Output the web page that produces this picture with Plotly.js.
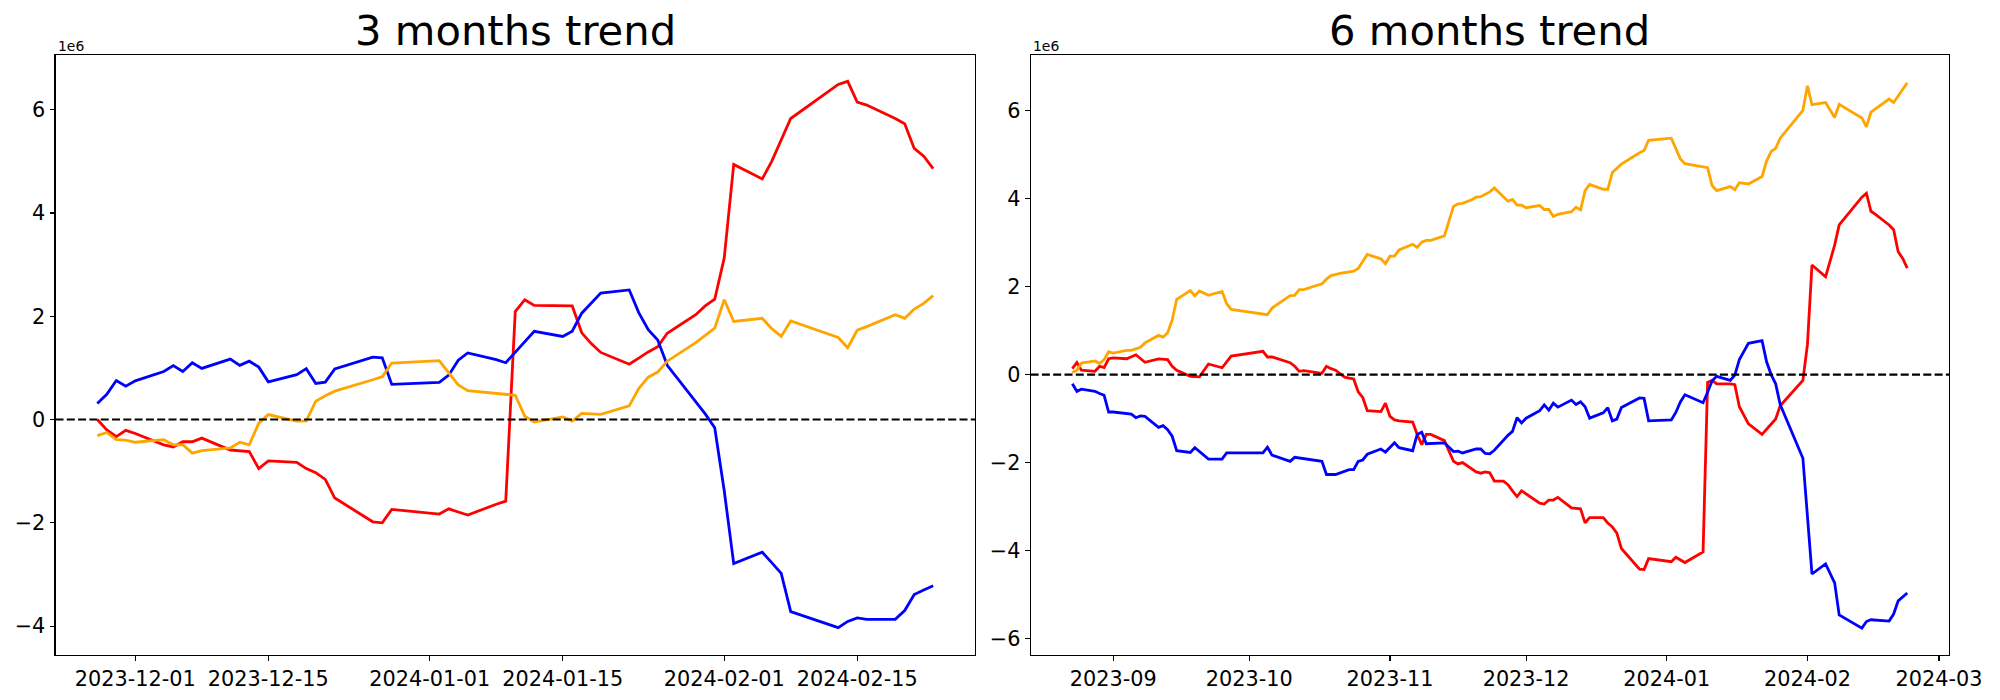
<!DOCTYPE html>
<html><head><meta charset="utf-8">
<script src="https://cdn.plot.ly/plotly-3.0.1.min.js"></script>
<style>html,body{margin:0;padding:0;background:#fff}#chart{width:2000px;height:700px}</style>
</head><body><div id="chart"></div>
<script>
// ---------- 3 months trend (values in units of 1e6) ----------
const leftDates = ['2023-11-27','2023-11-28','2023-11-29','2023-11-30','2023-12-01',
  '2023-12-04','2023-12-05','2023-12-06','2023-12-07','2023-12-08',
  '2023-12-11','2023-12-12','2023-12-13','2023-12-14','2023-12-15',
  '2023-12-18','2023-12-19','2023-12-20','2023-12-21','2023-12-22',
  '2023-12-26','2023-12-27','2023-12-28',
  '2024-01-02','2024-01-03','2024-01-04','2024-01-05',
  '2024-01-08','2024-01-09','2024-01-10','2024-01-11','2024-01-12',
  '2024-01-15','2024-01-16','2024-01-17','2024-01-18','2024-01-19',
  '2024-01-22','2024-01-23','2024-01-24','2024-01-25','2024-01-26',
  '2024-01-29','2024-01-30','2024-01-31','2024-02-01','2024-02-02',
  '2024-02-05','2024-02-06','2024-02-07','2024-02-08',
  '2024-02-13','2024-02-14','2024-02-15','2024-02-16',
  '2024-02-19','2024-02-20','2024-02-21','2024-02-22','2024-02-23'];
const leftRed = [0.0,-0.2,-0.33,-0.21,-0.27,
  -0.49,-0.53,-0.43,-0.43,-0.36,
  -0.59,-0.60,-0.62,-0.95,-0.80,
  -0.83,-0.95,-1.03,-1.16,-1.52,
  -1.98,-2.0,-1.74,
  -1.83,-1.73,-1.79,-1.85,
  -1.64,-1.58,2.09,2.32,2.21,
  2.21,2.20,1.68,1.47,1.30,
  1.07,1.19,1.31,1.41,1.67,
  2.03,2.20,2.33,3.13,4.94,
  4.66,5.00,5.40,5.83,
  6.49,6.55,6.15,6.09,
  5.83,5.73,5.25,5.10,4.86];
const leftBlue = [0.31,0.49,0.755,0.645,0.75,
  0.93,1.045,0.93,1.10,0.99,
  1.17,1.05,1.13,1.015,0.73,
  0.87,0.985,0.70,0.725,0.98,
  1.21,1.195,0.68,
  0.72,0.86,1.15,1.29,
  1.16,1.10,1.30,1.50,1.71,
  1.61,1.71,2.06,2.25,2.45,
  2.51,2.07,1.74,1.54,1.05,
  0.36,0.11,-0.16,-1.38,-2.79,
  -2.57,-2.77,-2.98,-3.72,
  -4.03,-3.91,-3.84,-3.87,
  -3.87,-3.70,-3.39,-3.30,-3.22];
const leftOrange = [-0.31,-0.25,-0.39,-0.40,-0.44,
  -0.39,-0.49,-0.485,-0.65,-0.60,
  -0.55,-0.44,-0.49,-0.07,0.095,
  -0.03,-0.025,0.355,0.46,0.55,
  0.77,0.83,1.095,
  1.14,0.905,0.67,0.56,
  0.51,0.50,0.47,0.065,-0.05,
  0.05,-0.03,0.12,0.11,0.10,
  0.265,0.60,0.82,0.92,1.13,
  1.49,1.63,1.77,2.32,1.90,
  1.96,1.76,1.61,1.91,
  1.59,1.39,1.73,1.80,
  2.03,1.96,2.14,2.25,2.40];
const leftTickVals = ['2023-12-01','2023-12-15','2024-01-01','2024-01-15','2024-02-01','2024-02-15'];
const leftTickText = ['2023-12-01','2023-12-15','2024-01-01','2024-01-15','2024-02-01','2024-02-15'];

// ---------- 6 months trend (values in units of 1e6) ----------
const rightOrangeDates = ['2023-08-23','2023-08-24','2023-08-25','2023-08-28','2023-08-29','2023-08-30','2023-08-31','2023-09-01',
  '2023-09-04','2023-09-05','2023-09-07','2023-09-08','2023-09-11','2023-09-12','2023-09-13','2023-09-14','2023-09-15',
  '2023-09-18','2023-09-19','2023-09-20','2023-09-22','2023-09-25','2023-09-26','2023-09-27','2023-10-05','2023-10-06',
  '2023-10-10','2023-10-11','2023-10-12','2023-10-13','2023-10-16','2023-10-17','2023-10-18','2023-10-19','2023-10-21',
  '2023-10-24','2023-10-25','2023-10-27','2023-10-30','2023-10-31','2023-11-01','2023-11-02','2023-11-03','2023-11-06',
  '2023-11-07','2023-11-08','2023-11-09','2023-11-10','2023-11-13','2023-11-15','2023-11-16','2023-11-17','2023-11-19',
  '2023-11-20','2023-11-21','2023-11-22','2023-11-23','2023-11-24','2023-11-26','2023-11-27','2023-11-28','2023-11-29',
  '2023-11-30','2023-12-01','2023-12-04','2023-12-05','2023-12-06','2023-12-07','2023-12-08','2023-12-11','2023-12-12',
  '2023-12-13','2023-12-14','2023-12-15','2023-12-18','2023-12-19','2023-12-20','2023-12-22','2023-12-26','2023-12-27',
  '2023-12-28','2024-01-02','2024-01-04','2024-01-05','2024-01-10','2024-01-11','2024-01-12','2024-01-15','2024-01-16',
  '2024-01-17','2024-01-19','2024-01-22','2024-01-23','2024-01-24','2024-01-25','2024-01-26','2024-01-31','2024-02-01',
  '2024-02-02','2024-02-05','2024-02-07','2024-02-08','2024-02-13','2024-02-14','2024-02-15','2024-02-16','2024-02-19',
  '2024-02-20','2024-02-21','2024-02-22','2024-02-23'];
const rightOrange = [0.05,0.10,0.26,0.31,0.25,0.34,0.52,0.49,
  0.55,0.55,0.62,0.72,0.89,0.85,0.95,1.24,1.71,
  1.91,1.79,1.90,1.80,1.89,1.61,1.48,1.36,1.51,
  1.795,1.80,1.93,1.93,2.03,2.06,2.17,2.25,2.30,
  2.35,2.41,2.73,2.63,2.52,2.69,2.69,2.83,2.96,
  2.89,3.01,3.05,3.05,3.15,3.82,3.88,3.89,3.97,
  4.03,4.04,4.10,4.15,4.24,4.03,3.94,3.98,3.85,
  3.85,3.79,3.84,3.75,3.75,3.59,3.64,3.70,3.80,
  3.74,4.18,4.32,4.21,4.21,4.59,4.78,5.04,5.09,
  5.32,5.37,4.90,4.79,4.70,4.29,4.18,4.27,4.20,
  4.36,4.33,4.50,4.85,5.07,5.14,5.37,6.00,6.56,
  6.13,6.18,5.84,6.14,5.83,5.63,5.96,6.03,6.26,
  6.18,6.34,6.48,6.63];

const rightRedDates = ['2023-08-23','2023-08-24','2023-08-25','2023-08-28','2023-08-29','2023-08-30','2023-08-31','2023-09-01',
  '2023-09-04','2023-09-06','2023-09-08','2023-09-11','2023-09-13','2023-09-14','2023-09-15','2023-09-18','2023-09-20',
  '2023-09-22','2023-09-25','2023-09-27','2023-10-04','2023-10-05','2023-10-06','2023-10-10','2023-10-11','2023-10-12',
  '2023-10-13','2023-10-16','2023-10-17','2023-10-18','2023-10-19','2023-10-20','2023-10-21','2023-10-22','2023-10-23',
  '2023-10-24','2023-10-25','2023-10-26','2023-10-27','2023-10-30','2023-10-31','2023-11-01','2023-11-02','2023-11-03',
  '2023-11-06','2023-11-07','2023-11-08','2023-11-09','2023-11-10','2023-11-13','2023-11-15','2023-11-16','2023-11-17',
  '2023-11-19','2023-11-20','2023-11-21','2023-11-22','2023-11-23','2023-11-24','2023-11-26','2023-11-27','2023-11-28',
  '2023-11-29','2023-11-30','2023-12-04','2023-12-05','2023-12-06','2023-12-07','2023-12-08','2023-12-11','2023-12-12',
  '2023-12-13','2023-12-14','2023-12-15','2023-12-18','2023-12-19','2023-12-20','2023-12-21','2023-12-22','2023-12-26',
  '2023-12-27','2023-12-28','2024-01-02','2024-01-03','2024-01-05','2024-01-09','2024-01-10','2024-01-11','2024-01-12',
  '2024-01-15','2024-01-16','2024-01-17','2024-01-19','2024-01-22','2024-01-25','2024-01-26','2024-01-31','2024-02-01',
  '2024-02-02','2024-02-05','2024-02-07','2024-02-08','2024-02-13','2024-02-14','2024-02-15','2024-02-16','2024-02-19',
  '2024-02-20','2024-02-21','2024-02-22','2024-02-23'];
const rightRed = [0.135,0.275,0.10,0.075,0.19,0.16,0.36,0.38,
  0.36,0.45,0.28,0.355,0.34,0.19,0.10,-0.04,-0.05,
  0.24,0.155,0.42,0.53,0.40,0.40,0.27,0.19,0.075,
  0.09,0.05,0.03,0.19,0.135,0.10,0.03,-0.06,-0.08,
  -0.10,-0.39,-0.52,-0.82,-0.84,-0.65,-0.95,-1.03,-1.05,
  -1.08,-1.36,-1.59,-1.36,-1.36,-1.50,-1.97,-2.03,-2.00,
  -2.14,-2.21,-2.24,-2.21,-2.23,-2.42,-2.42,-2.50,-2.64,
  -2.77,-2.64,-2.92,-2.94,-2.85,-2.85,-2.79,-3.03,-3.04,
  -3.05,-3.37,-3.25,-3.25,-3.37,-3.46,-3.60,-3.95,-4.42,
  -4.43,-4.18,-4.25,-4.15,-4.27,-4.03,-0.18,-0.13,-0.21,
  -0.21,-0.23,-0.73,-1.12,-1.36,-1.01,-0.71,-0.13,0.68,
  2.49,2.22,2.94,3.40,4.03,4.12,3.71,3.64,3.40,
  3.29,2.79,2.64,2.42];

const rightBlueDates = ['2023-08-23','2023-08-24','2023-08-25','2023-08-28','2023-08-29','2023-08-30','2023-08-31','2023-09-01',
  '2023-09-05','2023-09-06','2023-09-07','2023-09-08','2023-09-11','2023-09-12','2023-09-13','2023-09-14','2023-09-15',
  '2023-09-18','2023-09-19','2023-09-22','2023-09-25','2023-09-26','2023-10-04','2023-10-05','2023-10-06','2023-10-10',
  '2023-10-11','2023-10-17','2023-10-18','2023-10-20','2023-10-23','2023-10-24','2023-10-25','2023-10-26','2023-10-27',
  '2023-10-30','2023-10-31','2023-11-02','2023-11-03','2023-11-06','2023-11-07','2023-11-08','2023-11-09','2023-11-13',
  '2023-11-15','2023-11-16','2023-11-17','2023-11-20','2023-11-21','2023-11-22','2023-11-23','2023-11-24','2023-11-27',
  '2023-11-28','2023-11-29','2023-11-30','2023-12-01','2023-12-04','2023-12-05','2023-12-06','2023-12-07','2023-12-08',
  '2023-12-11','2023-12-12','2023-12-13','2023-12-14','2023-12-15','2023-12-18','2023-12-19','2023-12-20','2023-12-21',
  '2023-12-22','2023-12-26','2023-12-27','2023-12-28','2024-01-02','2024-01-03','2024-01-04','2024-01-05','2024-01-09',
  '2024-01-10','2024-01-11','2024-01-12','2024-01-15','2024-01-16','2024-01-17','2024-01-19','2024-01-22','2024-01-23',
  '2024-01-24','2024-01-25','2024-01-26','2024-01-31','2024-02-02','2024-02-05','2024-02-07','2024-02-08','2024-02-13',
  '2024-02-14','2024-02-15','2024-02-19','2024-02-20','2024-02-21','2024-02-23'];
const rightBlue = [-0.21,-0.38,-0.33,-0.38,-0.43,-0.47,-0.85,-0.85,
  -0.90,-0.98,-0.94,-0.95,-1.20,-1.16,-1.25,-1.40,-1.73,
  -1.77,-1.66,-1.92,-1.92,-1.78,-1.78,-1.65,-1.83,-1.97,
  -1.88,-1.97,-2.27,-2.27,-2.16,-2.16,-1.97,-1.94,-1.81,
  -1.69,-1.76,-1.55,-1.66,-1.73,-1.36,-1.31,-1.57,-1.55,
  -1.75,-1.74,-1.78,-1.69,-1.69,-1.79,-1.80,-1.72,-1.38,
  -1.29,-0.98,-1.10,-0.99,-0.82,-0.69,-0.81,-0.65,-0.74,
  -0.58,-0.68,-0.62,-0.73,-0.99,-0.87,-0.75,-1.05,-1.01,
  -0.75,-0.53,-0.54,-1.05,-1.03,-0.86,-0.62,-0.46,-0.64,
  -0.40,-0.14,-0.04,-0.13,-0.01,0.34,0.71,0.77,0.29,
  0.0,-0.21,-0.68,-1.90,-4.53,-4.30,-4.73,-5.46,-5.76,
  -5.61,-5.57,-5.60,-5.44,-5.14,-4.96];
const rightTickVals = ['2023-09-01','2023-10-01','2023-11-01','2023-12-01','2024-01-01','2024-02-01','2024-03-01'];
const rightTickText = ['2023-09','2023-10','2023-11','2023-12','2024-01','2024-02','2024-03'];

const leftYTicks = [-4,-2,0,2,4,6];
const rightYTicks = [-6,-4,-2,0,2,4,6];

const RED = '#ff0000', BLUE = '#0000ff', ORANGE = '#ffa500';
const LW = 2.8;
function tr(x, y, color, xa, ya) {
  return {x: x, y: y, type: 'scatter', mode: 'lines', line: {color: color, width: LW},
          xaxis: xa, yaxis: ya, hoverinfo: 'skip', showlegend: false};
}
const traces = [
  tr(leftDates, leftRed, RED, 'x', 'y'),
  tr(leftDates, leftBlue, BLUE, 'x', 'y'),
  tr(leftDates, leftOrange, ORANGE, 'x', 'y'),
  tr(rightRedDates, rightRed, RED, 'x2', 'y2'),
  tr(rightBlueDates, rightBlue, BLUE, 'x2', 'y2'),
  tr(rightOrangeDates, rightOrange, ORANGE, 'x2', 'y2')
];

const FONT = 'DejaVu Sans, Liberation Sans, sans-serif';
const tickFont = {family: FONT, size: 20.8, color: '#000'};
function xax(domain, range, tv, tt, anchor) {
  return {domain: domain, anchor: anchor, type: 'date', range: range, tickmode: 'array',
    tickvals: tv, ticktext: tt, ticks: 'outside', ticklen: 4.9, tickwidth: 1.1, tickcolor: '#000',
    showline: true, linecolor: '#000', linewidth: 1.1, mirror: true, showgrid: false, zeroline: false,
    tickfont: tickFont, automargin: false, fixedrange: true};
}
function yax(domain, range, tv, anchor) {
  return {domain: domain, anchor: anchor, range: range, tickmode: 'array', tickvals: tv,
    ticks: 'outside', ticklen: 4.9, tickwidth: 1.1, tickcolor: '#000',
    showline: true, linecolor: '#000', linewidth: 1.1, mirror: true, showgrid: false, zeroline: false,
    tickfont: tickFont, automargin: false, fixedrange: true};
}
const yDom = [0.064286, 0.921429];
const xDomL = [0.02775, 0.4875], xDomR = [0.5153, 0.9745];

const layout = {
  width: 2000, height: 700, margin: {l: 0, r: 0, t: 0, b: 0},
  paper_bgcolor: '#fff', plot_bgcolor: '#fff', showlegend: false,
  xaxis: xax(xDomL, ['2023-11-22 14:24', '2024-02-27 09:36'], leftTickVals, leftTickText, 'y'),
  yaxis: yax(yDom, [-4.56, 7.06], leftYTicks, 'x'),
  xaxis2: xax(xDomR, ['2023-08-13 19:12', '2024-03-03 04:48'], rightTickVals, rightTickText, 'y2'),
  yaxis2: yax(yDom, [-6.37, 7.26], rightYTicks, 'x2'),
  shapes: [
    {type: 'line', xref: 'x domain', x0: 0, x1: 1, yref: 'y', y0: 0, y1: 0,
     line: {color: '#000', width: 2.1, dash: '8px,3.3px'}},
    {type: 'line', xref: 'x2 domain', x0: 0, x1: 1, yref: 'y2', y0: 0, y1: 0,
     line: {color: '#000', width: 2.1, dash: '8px,3.3px'}}
  ],
  annotations: [
    {text: '3 months trend', xref: 'paper', yref: 'paper', x: (xDomL[0] + xDomL[1]) / 2, y: yDom[1],
     xanchor: 'center', yanchor: 'bottom', yshift: -2, showarrow: false,
     font: {family: FONT, size: 41.7, color: '#000'}},
    {text: '6 months trend', xref: 'paper', yref: 'paper', x: (xDomR[0] + xDomR[1]) / 2, y: yDom[1],
     xanchor: 'center', yanchor: 'bottom', yshift: -2, showarrow: false,
     font: {family: FONT, size: 41.7, color: '#000'}},
    {text: '1e6', xref: 'paper', yref: 'paper', x: xDomL[0], y: yDom[1],
     xanchor: 'left', yanchor: 'bottom', yshift: -1, showarrow: false,
     font: {family: FONT, size: 13.9, color: '#000'}},
    {text: '1e6', xref: 'paper', yref: 'paper', x: xDomR[0], y: yDom[1],
     xanchor: 'left', yanchor: 'bottom', yshift: -1, showarrow: false,
     font: {family: FONT, size: 13.9, color: '#000'}}
  ]
};

Plotly.newPlot('chart', traces, layout, {displayModeBar: false, staticPlot: true});
</script>
</body></html>
